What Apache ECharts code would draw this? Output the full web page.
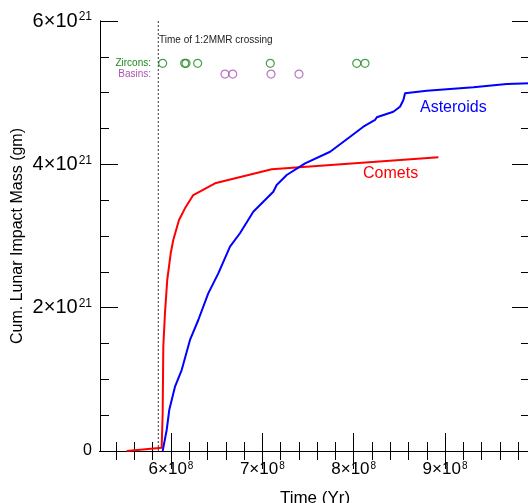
<!DOCTYPE html>
<html>
<head>
<meta charset="utf-8">
<script src="https://cdn.jsdelivr.net/npm/echarts@6/dist/echarts.min.js"></script>
<style>
    html, body { margin: 0; padding: 0; overflow: hidden; background: #fff; }
    #chart { width: 540px; height: 503px; }
</style>
</head>
<body>
<div id="chart"></div>
<script>
// time (yr) and cumulative mass (gm)
const cometTime = [5.515e8, 5.898e8, 5.909e8, 5.916e8, 5.934e8, 5.959e8, 5.997e8, 6.025e8, 6.088e8, 6.153e8, 6.244e8, 6.482e8, 7.103e8, 8.927e8]
const cometMass = [0, 0.046e21, 0.526e21, 1.455e21, 1.921e21, 2.386e21, 2.759e21, 2.944e21, 3.223e21, 3.386e21, 3.572e21, 3.735e21, 3.931e21, 4.098e21]

const asteroidTime = [5.909e8, 5.953e8, 5.981e8, 6.044e8, 6.117e8, 6.208e8, 6.299e8, 6.408e8, 6.518e8, 6.646e8, 6.755e8, 6.901e8, 7.12e8, 7.157e8, 7.267e8, 7.468e8, 7.742e8, 7.961e8, 8.106e8, 8.234e8, 8.253e8, 8.434e8, 8.507e8, 8.544e8, 8.562e8, 8.8e8, 9.31e8, 9.676e8, 9.93e8]
const asteroidMass = [0, 0.293e21, 0.572e21, 0.897e21, 1.13e21, 1.549e21, 1.828e21, 2.2e21, 2.479e21, 2.851e21, 3.038e21, 3.339e21, 3.618e21, 3.712e21, 3.851e21, 4.014e21, 4.176e21, 4.385e21, 4.525e21, 4.619e21, 4.656e21, 4.734e21, 4.804e21, 4.898e21, 4.991e21, 5.027e21, 5.075e21, 5.121e21, 5.13e21]

const zirconAges = [5.909e8, 6.15e8, 6.165e8, 6.292e8, 7.087e8, 8.033e8, 8.124e8]
const basinAges = [6.591e8, 6.676e8, 7.095e8, 7.401e8]
const zirconRow = 5.41e21
const basinRow = 5.26e21
const mmrCrossing = 5.861e8

const xMin = 5.223e8
const xMax = 9.93e8
const xMajor = [6e8, 7e8, 8e8, 9e8]
const xMinor = [5.4e8, 5.6e8, 5.8e8, 6.2e8, 6.4e8, 6.6e8, 6.8e8, 7.2e8, 7.4e8, 7.6e8, 7.8e8, 8.2e8, 8.4e8, 8.6e8, 8.8e8, 9.2e8, 9.4e8, 9.6e8, 9.8e8]
const yMajor = [0, 2e21, 4e21, 6e21]
const yMinor = [0.5e21, 1e21, 1.5e21, 2.5e21, 3e21, 3.5e21, 4.5e21, 5e21, 5.5e21]

const FONT = '"Liberation Sans", Arial, Helvetica, sans-serif'
const ZIRCON = '#1a8a1a'
const BASIN = '#a655b5'

const pair = (xs, ys) => xs.map((x, i) => [x, ys[i]])

const xAxisBase = (position, ticks, len, withLabel) => ({
    type: 'value',
    position,
    min: xMin,
    max: xMax,
    splitLine: { show: false },
    axisLine: { show: withLabel !== null, lineStyle: { color: '#000', width: 1 } },
    axisTick: { inside: true, length: len, customValues: ticks, lineStyle: { color: '#000', width: 1 } },
    axisLabel: withLabel ? {
        customValues: xMajor,
        margin: 10,
        fontFamily: FONT,
        fontSize: 16,
        color: '#000',
        formatter: (v) => `{a|${Math.round(v / 1e8)}×10}{b|8}`,
        rich: {
            a: { fontFamily: FONT, fontSize: 17, color: '#000' },
            b: { fontFamily: FONT, fontSize: 10, color: '#000', verticalAlign: 'top', padding: [0, 0, 0, 1] },
        },
    } : { show: false },
})

const yAxisBase = (position, ticks, len, withLabel) => ({
    type: 'value',
    position,
    min: 0,
    max: 6e21,
    splitLine: { show: false },
    axisLine: { show: withLabel !== null, lineStyle: { color: '#000', width: 1 } },
    axisTick: { inside: true, length: len, customValues: ticks, lineStyle: { color: '#000', width: 1 } },
    axisLabel: withLabel ? {
        customValues: yMajor,
        margin: 8,
        fontFamily: FONT,
        fontSize: 18,
        color: '#000',
        formatter: (v) => v === 0 ? '{z|0}' : `{a|${Math.round(v / 1e21)}×10}{b|21}`,
        rich: {
            z: { fontFamily: FONT, fontSize: 16, color: '#000' },
            a: { fontFamily: FONT, fontSize: 20, color: '#000' },
            b: { fontFamily: FONT, fontSize: 12, color: '#000', verticalAlign: 'top', padding: [0, 0, 0, 1] },
        },
    } : { show: false },
})

const chart = echarts.init(document.getElementById('chart'))

const xAxes = [
    Object.assign(xAxisBase('bottom', xMajor, 18, true), {
        name: 'Time (Yr)',
        nameLocation: 'middle',
        nameGap: 39,
        nameMoveOverlap: false,
        nameTextStyle: { fontFamily: FONT, fontSize: 17, color: '#000' },
    }),
    xAxisBase('bottom', xMinor, 9, false),
    xAxisBase('top', xMajor, 18, false),
    xAxisBase('top', xMinor, 9, false),
]
const yAxes = [
    Object.assign(yAxisBase('left', yMajor, 18, true), {
        name: 'Cum. Lunar Impact Mass (gm)',
        nameLocation: 'middle',
        nameGap: 74,
        nameRotate: 90,
        nameMoveOverlap: false,
        nameTextStyle: { fontFamily: FONT, fontSize: 16, color: '#000' },
    }),
    yAxisBase('left', yMinor, 9, false),
    yAxisBase('right', yMajor, 18, false),
    yAxisBase('right', yMinor, 9, false),
]

chart.setOption({
    animation: false,
    backgroundColor: '#fff',
    grid: { left: 100, right: 10, top: 21, bottom: 52, containLabel: false, outerBoundsMode: 'none' },
    xAxis: xAxes,
    yAxis: yAxes,
    graphic: [
        { type: 'text', style: { text: 'Time of 1:2MMR crossing', x: 159, y: 40, verticalAlign: 'middle', font: `10px ${FONT}`, fill: '#222' } },
        { type: 'text', style: { text: 'Zircons:', x: 151, y: 63, align: 'right', verticalAlign: 'middle', font: `10px ${FONT}`, fill: ZIRCON } },
        { type: 'text', style: { text: 'Basins:', x: 151, y: 74, align: 'right', verticalAlign: 'middle', font: `10px ${FONT}`, fill: BASIN } },
        { type: 'text', style: { text: 'Asteroids', x: 420, y: 108, verticalAlign: 'middle', font: `16px ${FONT}`, fill: '#0000ff' } },
        { type: 'text', style: { text: 'Comets', x: 363, y: 174, verticalAlign: 'middle', font: `16px ${FONT}`, fill: '#ff0000' } },
    ],
    series: [
        {
            name: 'MMR crossing',
            type: 'line',
            data: [[mmrCrossing, 0], [mmrCrossing, 6e21]],
            symbol: 'none',
            lineStyle: { color: '#333', width: 1, type: [2, 2] },
        },
        {
            name: 'Comets',
            type: 'line',
            data: pair(cometTime, cometMass),
            symbol: 'none',
            lineStyle: { color: '#ff0000', width: 2 },
        },
        {
            name: 'Asteroids',
            type: 'line',
            data: pair(asteroidTime, asteroidMass),
            symbol: 'none',
            lineStyle: { color: '#0000ff', width: 2 },
        },
        {
            name: 'Zircons',
            type: 'scatter',
            data: zirconAges.map((t) => [t, zirconRow]),
            symbol: 'circle',
            symbolSize: 8,
            itemStyle: { color: 'transparent', borderColor: ZIRCON, borderWidth: 1.2 },
        },
        {
            name: 'Basins',
            type: 'scatter',
            data: basinAges.map((t) => [t, basinRow]),
            symbol: 'circle',
            symbolSize: 8,
            itemStyle: { color: 'transparent', borderColor: BASIN, borderWidth: 1.2 },
        },
    ],
})
</script>
</body>
</html>
